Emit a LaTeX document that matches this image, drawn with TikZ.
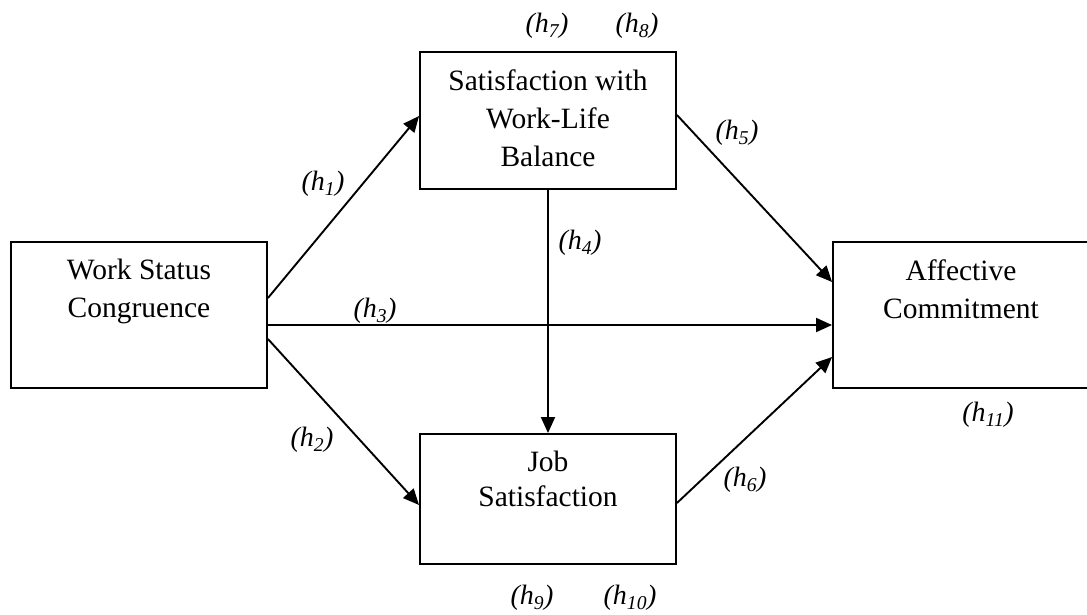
\documentclass[tikz,border=0pt]{standalone}
\usepackage{fontspec}
\setmainfont{Liberation Serif}
\usetikzlibrary{arrows.meta,positioning}
\tikzset{box/.style = {draw, line width=1.9pt, minimum width=256pt, inner sep=0pt},
  boxtext/.style = {align=center, inner sep=0pt, font=\fontsize{29.5}{38}\selectfont},
  hyp/.style = {inner sep=0pt, font=\fontsize{28}{32}\selectfont\itshape},
  link/.style = {line width=1.9pt, -{Triangle[length=16pt,width=14pt]}}}

\begin{document}
\begin{tikzpicture}[x=1pt, y=-1pt]
        \path[use as bounding box] (0,0) rectangle (1087,614);
        % boxes
        \node[box, minimum height=146pt] (wsc) at (139,315) {};
        \node[box, minimum height=137pt] (swlb) at (548,120.5) {};
        \node[box, minimum height=146pt] (ac) at (961,315) {};
        \node[box, minimum height=130pt] (js) at (548,499) {};
        \node[boxtext, below=18pt of wsc.north] (wsctext) {Work Status\\Congruence};
        \node[boxtext, below=18pt of swlb.north] (swlbtext) {Satisfaction with\\Work-Life\\Balance};
        \node[boxtext, below=18pt of ac.north] (actext) {Affective\\Commitment};
        \node[boxtext, below=18pt of js.north, font=\fontsize{29.5}{35}\selectfont] (jstext) {Job\\Satisfaction};
        % paths
        \draw[link] ([yshift=17pt]wsc.east) -- ([yshift=4.5pt]swlb.west);
        \draw[link] ([yshift=-24pt]wsc.east) -- ([yshift=-6pt]js.west);
        \draw[link] ([yshift=-10pt]wsc.east) -- ([yshift=-10pt]ac.west);
        \draw[link] (swlb.south) -- (js.north);
        \draw[link] ([yshift=5.5pt]swlb.east) -- ([yshift=33pt]ac.west);
        \draw[link] ([yshift=-4pt]js.east) -- ([yshift=-42pt]ac.west);
        % hypotheses
        \node[hyp] (h1) at (323,184) {(h\textsubscript{1})};
        \node[hyp] (h2) at (312,440) {(h\textsubscript{2})};
        \node[hyp] (h3) at (375,311) {(h\textsubscript{3})};
        \node[hyp] (h4) at (580,243) {(h\textsubscript{4})};
        \node[hyp] (h5) at (737,133) {(h\textsubscript{5})};
        \node[hyp] (h6) at (745,480) {(h\textsubscript{6})};
        \node[hyp] (h7) at (547,26) {(h\textsubscript{7})};
        \node[hyp] (h8) at (637,26) {(h\textsubscript{8})};
        \node[hyp] (h9) at (532,598) {(h\textsubscript{9})};
        \node[hyp] (h10) at (630,598) {(h\textsubscript{10})};
        \node[hyp] (h11) at (988,415) {(h\textsubscript{11})};
\end{tikzpicture}
\end{document}
